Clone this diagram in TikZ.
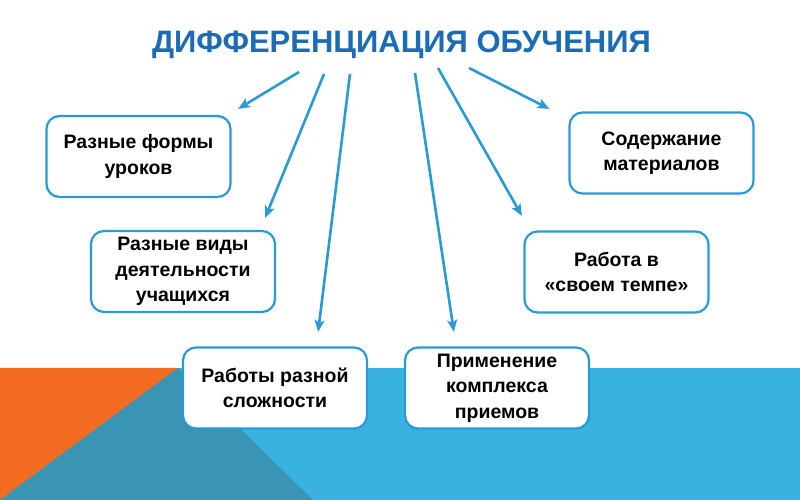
\documentclass[tikz,border=0pt]{standalone}
\usepackage{fontspec}
\setmainfont{Liberation Sans}
\usepackage{tikz}
\usetikzlibrary{arrows.meta,calc}
\definecolor{slideblue}{RGB}{58,178,223}
\definecolor{slideteal}{RGB}{58,148,179}
\definecolor{slideorange}{RGB}{243,108,33}
\definecolor{titleblue}{RGB}{27,108,181}
\definecolor{linkblue}{RGB}{42,154,212}

\begin{document}
\begin{tikzpicture}[x=1pt,y=1pt,>={Stealth[length=12pt,width=10pt,inset=3pt]},
    topic/.style={draw=linkblue,line width=2.2pt,fill=white,rounded corners=13pt,
        minimum width=184pt,minimum height=81pt,align=center,inner sep=1pt,
        font=\fontsize{19.5}{25.5}\selectfont\bfseries},
    link/.style={->,linkblue,line width=2.6pt}]
    \useasboundingbox (0,0) rectangle (800,500);

    % Background band
    \fill[white] (0,0) rectangle (800,500);
    \fill[slideblue] (0,0) rectangle (800,132);
    \fill[slideorange] (0,132) -- (178,132) -- (0,0) -- cycle;
    \fill[slideteal] (178,132) -- (313,0) -- (0,0) -- cycle;

    % Title
    \node[titleblue,font=\fontsize{31}{31}\selectfont\bfseries] (title) at (401.5,455)
        {ДИФФЕРЕНЦИАЦИЯ ОБУЧЕНИЯ};

    % Boxes
    \node[topic] (forms) at (138.5,343.5) {Разные формы\\уроков};
    \node[topic] (content) at (661.5,347) {Содержание\\материалов};
    \node[topic] (kinds) at (183,228.5) {Разные виды\\деятельности\\учащихся};
    \node[topic] (tempo) at (616.5,228) {Работа в\\«своем темпе»};
    \node[topic] (levels) at (275,112) {Работы разной\\сложности};
    \node[topic] (methods) at (497,112) {Применение\\комплекса\\приемов};

    % Arrow ends
    \coordinate (s1) at (299,428);
    \coordinate (s2) at (324,426);
    \coordinate (s3) at (350,426);
    \coordinate (s4) at (415,427);
    \coordinate (s5) at (438,432);
    \coordinate (s6) at (469,432);
    \coordinate (t1) at ($(forms.north east)+(6.5,6)$);
    \coordinate (t2) at ($(kinds.north east)+(-11,12)$);
    \coordinate (t3) at ($(levels.north east)+(-50,14.5)$);
    \coordinate (t4) at ($(methods.north west)+(50,14.5)$);
    \coordinate (t5) at ($(tempo.north west)+(-1.5,14.5)$);
    \coordinate (t6) at ($(content.north west)+(-19,2.5)$);

    % Arrows
    \draw[link] (s1) -- (t1);
    \draw[link] (s2) -- (t2);
    \draw[link] (s3) -- (t3);
    \draw[link] (s4) -- (t4);
    \draw[link] (s5) -- (t5);
    \draw[link] (s6) -- (t6);
\end{tikzpicture}
\end{document}
